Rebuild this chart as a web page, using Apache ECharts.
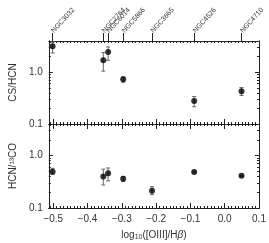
<!DOCTYPE html>
<html><head><meta charset="utf-8">
<script src="https://cdn.jsdelivr.net/npm/echarts@6/dist/echarts.min.js"></script>
<style>html,body{margin:0;padding:0;background:#fff}#c{width:269px;height:243px}</style>
</head><body><div id="c"></div>
<script>
const galaxies = ['NGC3032','NGC2764','NGC6014','NGC5866','NGC3665','NGC4526','NGC4710'];
const oiiiHb = [-0.502, -0.354, -0.340, -0.296, -0.212, -0.089, 0.049];
const csHcn = [3.16, 1.70, 2.46, 0.73, null, 0.277, 0.431];
const csHcnLo = [2.35, 1.05, 1.70, 0.64, null, 0.215, 0.356];
const csHcnHi = [3.83, 2.39, 3.07, 0.81, null, 0.34, 0.507];
const hcn13co = [0.494, 0.397, 0.46, 0.36, 0.214, 0.488, 0.41];
const hcn13coLo = [0.44, 0.275, 0.33, 0.32, 0.18, 0.47, 0.40];
const hcn13coHi = [0.57, 0.55, 0.58, 0.40, 0.255, 0.51, 0.42];
const xTicks = [-0.5, -0.4, -0.3, -0.2, -0.1, 0.0, 0.1];
const xMinor = []; for (let i = -51; i <= 10; i++) xMinor.push(+(i/100).toFixed(2));
const yTicks = [0.1, 1.0];
const yMinor = [0.2,0.3,0.4,0.5,0.6,0.7,0.8,0.9,2,3,4];

const FONT = 'Liberation Sans';
const AX = '#222';
const TXT = '#333';
const XMIN = -0.513, XMAX = 0.1, YMIN = 0.1, YMAX = 4;

function xAx(grid, pos, values, len, labels) {
  return {
    type: 'value', gridIndex: grid, position: pos, min: XMIN, max: XMAX,
    axisLine: {show: true, onZero: false, lineStyle: {color: AX, width: 1}},
    splitLine: {show: false},
    axisTick: {show: true, inside: true, length: len, customValues: values, lineStyle: {color: AX}},
    axisLabel: labels ? {show: true, customValues: xTicks, color: TXT, fontFamily: FONT, fontSize: 10, margin: 6,
      formatter: v => (v < 0 ? '\u2212' : '') + Math.abs(v).toFixed(1)} : {show: false}
  };
}
function yAx(grid, pos, values, len, labels, name) {
  const o = {
    type: 'log', logBase: 10, gridIndex: grid, position: pos, min: YMIN, max: YMAX,
    axisLine: {show: true, onZero: false, lineStyle: {color: AX, width: 1}},
    splitLine: {show: false},
    axisTick: {show: true, inside: true, length: len, customValues: values, lineStyle: {color: AX}},
    axisLabel: labels ? {show: true, customValues: yTicks, color: TXT, fontFamily: FONT, fontSize: 10, margin: 6,
      formatter: v => v.toFixed(1)} : {show: false}
  };
  if (name) {
    o.name = name; o.nameLocation = 'middle'; o.nameGap = 23;
    o.nameTextStyle = {color: TXT, fontFamily: FONT, fontSize: 10};
  }
  return o;
}

const xAxes = [
  xAx(0, 'bottom', xTicks, 5, false),
  xAx(0, 'bottom', xMinor, 2, false),
  xAx(0, 'top', xMinor, 2, false),
  {
    type: 'value', gridIndex: 0, position: 'top', min: XMIN, max: XMAX,
    axisLine: {show: false, onZero: false}, splitLine: {show: false},
    axisTick: {show: true, inside: false, length: 8, customValues: oiiiHb, lineStyle: {color: AX}},
    axisLabel: {show: true, customValues: oiiiHb, rotate: -48, fontSize: 7, fontFamily: FONT, color: TXT, margin: 9,
      formatter: v => { let b = 0, d = 1e9; oiiiHb.forEach((x, i) => { if (Math.abs(x - v) < d) { d = Math.abs(x - v); b = i; } }); return galaxies[b]; }}
  },
  xAx(1, 'bottom', xTicks, 5, true),
  xAx(1, 'bottom', xMinor, 2, false),
  xAx(1, 'top', xTicks, 5, false),
  xAx(1, 'top', xMinor, 2, false)
];
xAxes[4].name = '{a|log}{s|10}{a|([OIII]/H}{i|\u03b2}{a|)}';
xAxes[4].nameLocation = 'middle';
xAxes[4].nameGap = 21;
xAxes[4].nameTextStyle = {rich: {
  a: {fontFamily: FONT, fontSize: 10, color: TXT},
  s: {fontFamily: FONT, fontSize: 7, color: TXT, padding: [5, 0, 0, 0]},
  i: {fontFamily: FONT, fontSize: 10, color: TXT, fontStyle: 'italic'}
}};

const yAxes = [
  yAx(0, 'left', yTicks, 4, true, 'CS/HCN'),
  yAx(0, 'left', yMinor, 2, false),
  yAx(0, 'right', yTicks, 4, false),
  yAx(0, 'right', yMinor, 2, false),
  yAx(1, 'left', yTicks, 4, true, 'HCN/\u00b9\u00b3CO'),
  yAx(1, 'left', yMinor, 2, false),
  yAx(1, 'right', yTicks, 4, false),
  yAx(1, 'right', yMinor, 2, false)
];

function errData(vals, lo, hi) {
  return oiiiHb.map((x, i) => vals[i] == null ? null : [x, lo[i], hi[i]]).filter(d => d);
}
function ptData(vals) {
  return oiiiHb.map((x, i) => vals[i] == null ? null : [x, vals[i]]).filter(d => d);
}
function errSeries(xi, yi, data) {
  return {
    type: 'custom', xAxisIndex: xi, yAxisIndex: yi, data: data, z: 2,
    renderItem: (params, api) => {
      const x = api.value(0);
      const p1 = api.coord([x, api.value(1)]);
      const p2 = api.coord([x, api.value(2)]);
      const w = 2;
      const st = {stroke: '#666', lineWidth: 1};
      return {type: 'group', children: [
        {type: 'line', shape: {x1: p1[0], y1: p1[1], x2: p2[0], y2: p2[1]}, style: st},
        {type: 'line', shape: {x1: p1[0]-w, y1: p1[1], x2: p1[0]+w, y2: p1[1]}, style: st},
        {type: 'line', shape: {x1: p2[0]-w, y1: p2[1], x2: p2[0]+w, y2: p2[1]}, style: st}
      ]};
    }
  };
}

const chart = echarts.init(document.getElementById('c'), null, {renderer: 'canvas'});
chart.setOption({
  animation: false,
  backgroundColor: '#fff',
  grid: [
    {left: 45, top: 41, width: 214, height: 83},
    {left: 45, top: 124, width: 214, height: 84}
  ],
  xAxis: xAxes,
  yAxis: yAxes,
  series: [
    errSeries(0, 0, errData(csHcn, csHcnLo, csHcnHi)),
    errSeries(4, 4, errData(hcn13co, hcn13coLo, hcn13coHi)),
    {type: 'scatter', xAxisIndex: 0, yAxisIndex: 0, data: ptData(csHcn), symbol: 'circle', symbolSize: 6, itemStyle: {color: '#000'}, z: 3},
    {type: 'scatter', xAxisIndex: 4, yAxisIndex: 4, data: ptData(hcn13co), symbol: 'circle', symbolSize: 6, itemStyle: {color: '#000'}, z: 3}
  ]
});
</script>
</body></html>
